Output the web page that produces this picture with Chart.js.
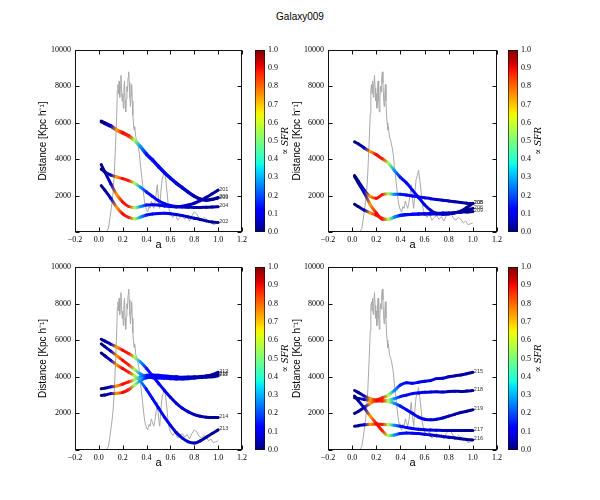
<!DOCTYPE html>
<html><head><meta charset="utf-8">
<script src="https://cdn.jsdelivr.net/npm/chart.js@4.4.1/dist/chart.umd.min.js"></script>
<style>
body{margin:0;background:#fff;}
#wrap{position:relative;width:600px;height:500px;background:#fff;overflow:hidden;}
#wrap canvas{position:absolute;}
#title{position:absolute;left:0;width:600px;top:11px;line-height:12px;text-align:center;font:10px "Liberation Sans",Arial,sans-serif;color:#000;}
</style></head><body>
<div id="wrap"><div id="title">Galaxy009</div></div>
<script>
// ---------- data ----------
const aGrid = [0.02,0.05,0.10,0.15,0.20,0.25,0.30,0.35,0.40,0.45,0.50,0.55,0.60,0.65,0.70,0.75,0.80,0.85,0.90,0.95,1.00];
// relative SFR (colour value) along the a grid
const sfrWeight = [0.00,0.01,0.07,0.75,0.90,0.88,0.55,0.27,0.15,0.12,0.11,0.10,0.09,0.08,0.07,0.06,0.05,0.04,0.03,0.02,0.02];

// grey star-formation-rate curve
const sfrA = [0.064,0.08,0.09,0.10,0.11,0.12,0.13,0.14,0.15,0.155,0.16,0.165,0.17,0.175,0.18,0.185,0.19,0.195,0.20,0.205,0.21,0.215,0.22,0.225,0.23,0.235,0.24,0.245,0.25,0.255,0.26,0.265,0.27,0.275,0.28,0.285,0.29,0.295,0.30,0.31,0.32,0.33,0.34,0.35,0.36,0.37,0.38,0.39,0.40,0.41,0.42,0.43,0.44,0.45,0.46,0.47,0.48,0.49,0.50,0.51,0.52,0.53,0.54,0.55,0.56,0.57,0.58,0.59,0.60,0.62,0.64,0.66,0.68,0.70,0.72,0.74,0.76,0.78,0.80,0.82,0.84,0.86,0.88,0.90,0.92,0.94,0.96,0.98,1.00];
const sfrV = [0,200,600,1100,1600,2200,3300,4800,6500,7800,8100,7600,8300,7400,8000,8600,7900,7200,7600,6800,7900,8300,7200,6600,7300,8000,7700,8500,8800,8200,7400,6900,7500,8100,7200,6400,6000,5600,5800,5200,5000,4700,4300,3600,3000,2400,1800,1400,1200,1100,1400,1300,1700,1500,1300,1600,2100,2600,1800,1300,2200,2900,3100,3400,2900,2300,1600,1200,1000,800,1000,650,800,900,700,850,600,900,1100,1000,750,650,800,700,500,600,400,450,500];

// panel 1 (haloes 200-204)
const p1_200 = [6100,6000,5850,5620,5470,5300,5050,4700,4300,3980,3620,3280,2980,2700,2450,2200,1980,1820,1760,1800,1900];
const p1_203 = [6050,5950,5800,5580,5430,5260,5000,4650,4250,3930,3580,3240,2940,2660,2410,2170,1950,1800,1740,1780,1860];
const p1_201 = [3450,3300,3130,3020,2930,2820,2680,2450,2200,1950,1720,1560,1460,1400,1420,1480,1580,1720,1900,2100,2300];
const p1_204 = [3700,3300,2650,2050,1650,1400,1330,1400,1480,1500,1480,1430,1400,1380,1370,1360,1350,1350,1360,1370,1390];
const p1_202 = [2550,2300,1850,1350,1000,800,720,820,930,990,1020,1030,1000,960,900,830,760,690,610,550,520];

// panel 2 (haloes 205-209)
const p2_208 = [4950,4850,4620,4420,4250,4020,3780,3380,3000,2700,2300,1900,1500,1200,1020,980,990,1050,1150,1350,1580];
const p2_205 = [3100,2800,2300,1950,1850,2050,2100,2080,2080,2030,1980,1930,1880,1830,1790,1750,1700,1660,1620,1580,1550];
const p2_206 = [3050,2700,2150,1500,1050,700,700,820,920,960,980,990,990,990,990,1000,1020,1060,1120,1200,1300];
const p2_209 = [1520,1400,1200,1050,920,750,680,820,900,950,970,990,1000,1010,1030,1040,1050,1070,1090,1100,1120];

// panel 3 (haloes 210-214)
const p3_214 = [6050,5950,5780,5620,5450,5270,5050,4800,4450,4050,3650,3250,2880,2550,2280,2080,1930,1840,1790,1770,1780];
const p3_210 = [5800,5650,5400,5150,4900,4650,4400,4150,4000,3950,3930,3920,3900,3880,3880,3900,3930,3970,4030,4100,4150];
const p3_213 = [5300,5150,4900,4650,4450,4250,4050,3750,3300,2800,2300,1800,1350,950,650,450,380,500,700,900,1100];
const p3_212 = [3350,3380,3450,3500,3600,3720,3850,4000,4080,4100,4080,4050,4020,4000,3980,3990,4000,4020,4050,4100,4250];
const p3_211 = [2980,3000,3080,3100,3150,3300,3550,3800,3950,4000,4000,3990,3980,3970,3960,3950,3950,3960,3980,4000,4050];

// panel 4 (haloes 215-219)
const p4_215 = [2000,2100,2330,2550,2720,2850,3000,3250,3550,3680,3650,3700,3760,3800,3900,3920,4000,4050,4100,4170,4250];
const p4_218 = [2850,2820,2760,2700,2680,2680,2720,2800,2920,3000,3080,3120,3150,3170,3180,3170,3200,3210,3200,3220,3250];
const p4_219 = [3250,3150,2950,2800,2720,2700,2650,2550,2400,2200,2000,1800,1680,1650,1680,1750,1850,1950,2050,2120,2200];
const p4_217 = [1300,1330,1380,1400,1420,1400,1380,1350,1300,1230,1180,1140,1110,1090,1080,1070,1070,1070,1060,1060,1060];
const p4_216 = [2950,2700,2300,1850,1450,1050,780,820,900,930,920,900,860,820,780,740,700,660,620,580,550];

const xTicks = {min:-0.2, max:1.2, step:0.2};
const yTicks = {min:0, max:10000, step:2000};
const cbTicks = {min:0, max:1, step:0.1};

// ---------- helpers ----------
const jetStops = {
  r:[[0,0],[0.35,0],[0.66,1],[0.89,1],[1,0.5]],
  g:[[0,0],[0.125,0],[0.375,1],[0.64,1],[0.91,0],[1,0]],
  b:[[0,0.5],[0.11,1],[0.34,1],[0.65,0],[1,0]]
};
function interp(st,v){
  for(let i=1;i<st.length;i++){
    if(v<=st[i][0]){const t=(v-st[i-1][0])/(st[i][0]-st[i-1][0]);return st[i-1][1]+t*(st[i][1]-st[i-1][1]);}
  }
  return st[st.length-1][1];
}
function jet(v){
  v=Math.max(0,Math.min(1,v));
  return 'rgb('+Math.round(255*interp(jetStops.r,v))+','+Math.round(255*interp(jetStops.g,v))+','+Math.round(255*interp(jetStops.b,v))+')';
}
const fmtX = v => { const s=(Math.round(v*10)/10).toFixed(1); return s.startsWith('-')?'\u2212'+s.slice(1):s; };
const tickFont = {family:'"Liberation Serif", "DejaVu Serif", serif', size:8};
const wrap = document.getElementById('wrap');

const framePlugin = {
  id:'frame',
  afterDraw(chart){
    const {ctx, chartArea:ca, scales} = chart;
    ctx.save();
    ctx.strokeStyle='#111'; ctx.lineWidth=1;
    const L=Math.round(ca.left)+0.5, R=Math.round(ca.right)-0.5, T=Math.round(ca.top)+0.5, B=Math.round(ca.bottom)-0.5;
    ctx.strokeRect(L,T,R-L,B-T);
    ctx.beginPath();
    scales.x.ticks.forEach(t=>{const px=Math.round(scales.x.getPixelForValue(t.value))+0.5; ctx.moveTo(px,B); ctx.lineTo(px,B-4); ctx.moveTo(px,T); ctx.lineTo(px,T+4);});
    scales.y.ticks.forEach(t=>{const py=Math.round(scales.y.getPixelForValue(t.value))+0.5; ctx.moveTo(L,py); ctx.lineTo(L+4,py); ctx.moveTo(R,py); ctx.lineTo(R-4,py);});
    ctx.stroke();
    ctx.restore();
  },
  afterDatasetsDraw(chart){
    const {ctx} = chart;
    ctx.save();
    ctx.font='5.5px "Liberation Sans", sans-serif';
    ctx.fillStyle='#333'; ctx.textAlign='left'; ctx.textBaseline='middle';
    chart.data.datasets.forEach((ds,i)=>{
      if(!ds.endLabel) return;
      const meta=chart.getDatasetMeta(i);
      const p=meta.data[meta.data.length-1];
      ctx.fillText(ds.endLabel, p.x+1, p.y-1);
    });
    ctx.restore();
  }
};

function makePanel(spec){
  const cv=document.createElement('canvas');
  cv.width=spec.cw; cv.height=spec.ch;
  cv.style.left=spec.cl+'px'; cv.style.top=spec.ct+'px';
  wrap.appendChild(cv);
  const g2d=cv.getContext('2d');
  const datasets=[{
    data:sfrA.map((a,i)=>({x:a,y:sfrV[i]})),
    borderColor:'#a8a8a8', borderWidth:1, pointRadius:0, tension:0, order:10
  }];
  spec.lines.forEach(([name,vals])=>{
    datasets.push({
      endLabel:name,
      data:aGrid.map((a,i)=>({x:a,y:vals[i]})),
      borderWidth:3, pointRadius:0, cubicInterpolationMode:'monotone',
      borderCapStyle:'round', borderJoinStyle:'round',
      borderColor:jet(sfrWeight[0]), order:1,
      segment:{borderColor:s=>{
        const gr=g2d.createLinearGradient(s.p0.x,s.p0.y,s.p1.x,s.p1.y);
        gr.addColorStop(0,jet(sfrWeight[s.p0DataIndex]));
        gr.addColorStop(1,jet(sfrWeight[s.p1DataIndex]));
        return gr;
      }}
    });
  });
  new Chart(cv,{
    type:'line',
    data:{datasets},
    plugins:[framePlugin],
    options:{
      responsive:false, animation:false, devicePixelRatio:1,
      layout:{padding:{left:0, top:spec.area.top-spec.ct, right:spec.cl+spec.cw-spec.area.right, bottom:0}},
      plugins:{legend:{display:false}, tooltip:{enabled:false}},
      scales:{
        x:{type:'linear', min:xTicks.min, max:xTicks.max,
           grid:{display:false, drawTicks:false}, border:{display:false},
           ticks:{stepSize:xTicks.step, padding:3, color:'#000', font:tickFont, autoSkip:false, maxRotation:0, callback:v=>fmtX(v)},
           title:{display:true, text:'a', color:'#000', font:{family:'"Liberation Sans", Arial, sans-serif', size:11}, padding:{top:0,bottom:2}},
           afterFit:s=>{s.height=spec.ct+spec.ch-spec.area.bottom;}},
        y:{type:'linear', min:yTicks.min, max:yTicks.max,
           grid:{display:false, drawTicks:false}, border:{display:false},
           ticks:{stepSize:yTicks.step, padding:4, color:'#000', font:tickFont, callback:v=>v===0?'':String(v)},
           title:{display:true, text:'Distance [Kpc h\u207B\u00B9]', color:'#000', font:{family:'"Liberation Sans", Arial, sans-serif', size:10}, padding:{top:spec.ytitle,bottom:0}},
           afterFit:s=>{s.width=spec.area.left-spec.cl;}}
      }
    }
  });
}

const cbLabelPlugin = {
  id:'cblabel',
  afterDraw(chart){
    const {ctx, chartArea:ca} = chart;
    ctx.save();
    ctx.translate(ca.right+21,(ca.top+ca.bottom)/2);
    ctx.rotate(-Math.PI/2);
    ctx.font='italic 9px "DejaVu Serif", serif';
    ctx.fillStyle='#000'; ctx.textAlign='center'; ctx.textBaseline='middle';
    ctx.fillText('\u221D SFR',0,0);
    ctx.restore();
  }
};

function makeColorbar(spec){
  const cv=document.createElement('canvas');
  cv.width=spec.cw; cv.height=spec.ch;
  cv.style.left=spec.cl+'px'; cv.style.top=spec.ct+'px';
  wrap.appendChild(cv);
  new Chart(cv,{
    type:'bar',
    data:{labels:['c'], datasets:[{
      data:[[cbTicks.min,cbTicks.max]],
      backgroundColor:c=>{
        const ca=c.chart.chartArea; if(!ca) return 'transparent';
        const gr=c.chart.ctx.createLinearGradient(0,ca.bottom,0,ca.top);
        for(let i=0;i<=40;i++) gr.addColorStop(i/40,jet(i/40));
        return gr;
      },
      borderColor:'#111', borderWidth:1, borderSkipped:false,
      barPercentage:1, categoryPercentage:1
    }]},
    plugins:[cbLabelPlugin],
    options:{
      responsive:false, animation:false, devicePixelRatio:1,
      layout:{padding:{left:spec.barLeft-spec.cl, top:spec.top-spec.ct, right:0, bottom:spec.ct+spec.ch-spec.bottom}},
      plugins:{legend:{display:false}, tooltip:{enabled:false}},
      scales:{
        x:{display:false},
        y:{position:'right', min:cbTicks.min, max:cbTicks.max,
           grid:{display:false, drawTicks:false}, border:{display:false},
           ticks:{stepSize:cbTicks.step, padding:3, color:'#000', font:tickFont, callback:v=>(Math.round(v*10)/10).toFixed(1)},
           afterFit:s=>{s.width=spec.cl+spec.cw-(spec.barLeft+10);}}
      }
    }
  });
}

// ---------- layout ----------
makePanel({cl:0, ct:30, cw:250, ch:224, ytitle:37, area:{left:75,top:50,right:242,bottom:232},
  lines:[['200',p1_200],['203',p1_203],['201',p1_201],['204',p1_204],['202',p1_202]]});
makePanel({cl:280, ct:30, cw:225, ch:224, ytitle:11, area:{left:328,top:50,right:497,bottom:232},
  lines:[['208',p2_208],['205',p2_205],['206',p2_206],['209',p2_209]]});
makePanel({cl:0, ct:247, cw:250, ch:225, ytitle:37, area:{left:75,top:267,right:242,bottom:450},
  lines:[['214',p3_214],['210',p3_210],['213',p3_213],['212',p3_212],['211',p3_211]]});
makePanel({cl:280, ct:247, cw:225, ch:225, ytitle:11, area:{left:328,top:267,right:497,bottom:450},
  lines:[['215',p4_215],['218',p4_218],['219',p4_219],['217',p4_217],['216',p4_216]]});

makeColorbar({cl:250, ct:30, cw:50, ch:224, barLeft:255, top:50, bottom:232});
makeColorbar({cl:503, ct:30, cw:50, ch:224, barLeft:508, top:50, bottom:232});
makeColorbar({cl:250, ct:247, cw:50, ch:225, barLeft:255, top:267, bottom:450});
makeColorbar({cl:503, ct:247, cw:50, ch:225, barLeft:508, top:267, bottom:450});
</script>
</body></html>
